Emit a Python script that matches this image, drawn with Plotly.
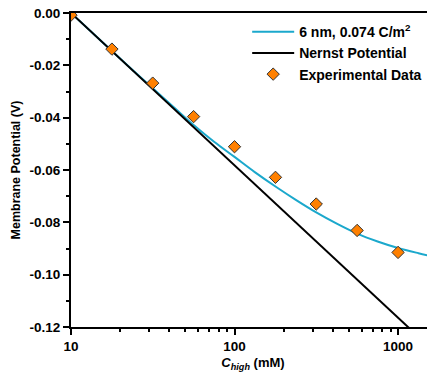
import plotly.graph_objects as go

# Experimental data
exp_conc = [10, 17.8, 31.6, 56.2, 100, 178, 316, 562, 1000, 1778]
exp_pot = [-0.0008, -0.0138, -0.0268, -0.0396, -0.0511, -0.0628, -0.0730, -0.0831, -0.0915, -0.0984]

# Model curve (6 nm, 0.074 C/m^2)
model_conc = [10, 13.3, 17.8, 23.7, 31.6, 42.2, 56.2, 75, 100, 133, 178, 237, 316, 422, 562, 750, 1000, 1334, 1778]
model_pot = [0.0, -0.0072, -0.0145, -0.0217, -0.0288, -0.0358, -0.0428, -0.0492, -0.0550, -0.0608,
             -0.0663, -0.0714, -0.0762, -0.0805, -0.0843, -0.0873, -0.0898, -0.0918, -0.0936]

# Nernst potential (straight line on log axis)
nernst_conc = [10, 1000, 1778]
nernst_pot = [0.0, -0.1164, -0.1310]

y_tickvals = [0, -0.02, -0.04, -0.06, -0.08, -0.10, -0.12]
y_ticktext = ["0.00", "-0.02", "-0.04", "-0.06", "-0.08", "-0.10", "-0.12"]
x_tickvals = [10, 100, 1000]
x_ticktext = ["10", "100", "1000"]

fig = go.Figure()
fig.add_trace(go.Scatter(x=model_conc, y=model_pot, mode="lines", line=dict(color="#1BA8CC", width=2, shape="spline"),
                         name="<b>6 nm, 0.074 C/m<sup>2</sup></b>"))
fig.add_trace(go.Scatter(x=nernst_conc, y=nernst_pot, mode="lines", line=dict(color="black", width=2),
                         name="<b>Nernst Potential</b>"))
fig.add_trace(go.Scatter(x=exp_conc, y=exp_pot, mode="markers",
                         marker=dict(symbol="diamond", size=9.5, color="#FF8000", line=dict(color="#333333", width=1)),
                         name="<b>Experimental Data</b>"))

fig.update_layout(
    width=427, height=364,
    margin=dict(l=63, r=0, t=5, b=45, autoexpand=False),
    plot_bgcolor="white", paper_bgcolor="white",
    font=dict(family="Liberation Sans, Arial, sans-serif", color="black"),
    showlegend=True,
    legend=dict(x=0.484, y=0.99, xanchor="left", yanchor="top", font=dict(size=14, color="black"),
                bgcolor="rgba(0,0,0,0)", itemwidth=42),
)
fig.update_xaxes(type="log", range=[1, 3.226], showgrid=False, zeroline=False, automargin=False,
                 showline=True, linecolor="black", linewidth=2, mirror=True,
                 ticks="outside", ticklen=6, tickwidth=2, tickcolor="black",
                 tickvals=x_tickvals, ticktext=x_ticktext, ticklabeloverflow="allow",
                 tickfont=dict(size=13.5, weight="bold"),
                 minor=dict(ticks="outside", ticklen=3, tickwidth=2, tickcolor="black",
                            tickvals=[20, 30, 40, 50, 60, 70, 80, 90, 200, 300, 400, 500, 600, 700, 800, 900]),
                 title=dict(text="<b><i>C</i><sub><i>high</i></sub> (mM)</b>", font=dict(size=13), standoff=6))
fig.update_yaxes(range=[-0.12, 0.0], showgrid=False, zeroline=False, automargin=False,
                 showline=True, linecolor="black", linewidth=2, mirror=False,
                 ticks="outside", ticklen=6, tickwidth=2, tickcolor="black",
                 tickvals=y_tickvals, ticktext=y_ticktext, ticklabeloverflow="allow",
                 tickfont=dict(size=13.5, weight="bold"),
                 minor=dict(ticks="outside", ticklen=3, tickwidth=2, tickcolor="black",
                            tickvals=[-0.01, -0.03, -0.05, -0.07, -0.09, -0.11]),
                 title=dict(text="<b>Membrane Potential (V)</b>", font=dict(size=12.5), standoff=6))

fig.write_html("out.html")
